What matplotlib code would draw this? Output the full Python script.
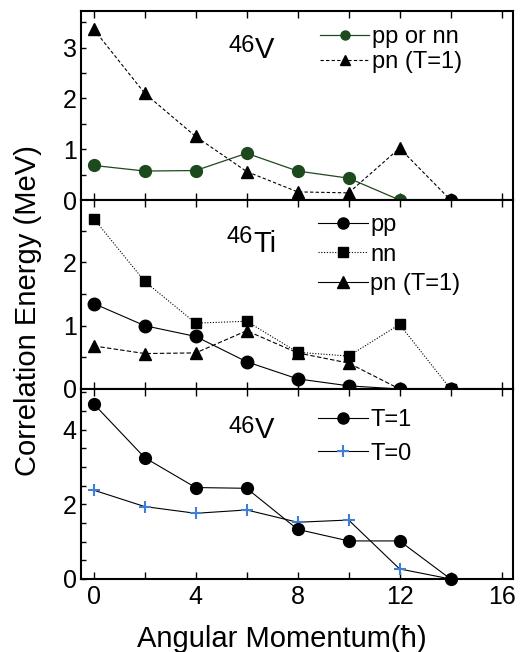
import matplotlib

matplotlib.use("Agg")
import matplotlib.pyplot as plt
from matplotlib.lines import Line2D
from matplotlib.ticker import MultipleLocator

# angular momentum grid (hbar)
j_vals = [0, 2, 4, 6, 8, 10, 12, 14]

# top panel: 46V, like-particle vs pn (T=1)
v46_like_j = [0, 2, 4, 6, 8, 10, 12]
v46_like = [0.68, 0.57, 0.58, 0.92, 0.57, 0.43, 0.0]
v46_pn = [3.36, 2.10, 1.25, 0.56, 0.16, 0.14, 1.02, 0.0]
v46_end_j = [14]
v46_end_e = [0.0]

# middle panel: 46Ti
ti46_pp = [1.35, 1.0, 0.83, 0.43, 0.16, 0.05, 0.0, 0.0]
ti46_nn = [2.69, 1.70, 1.04, 1.07, 0.58, 0.52, 1.02, 0.0]
ti46_pn_j = [0, 2, 4, 6, 8, 10, 12]
ti46_pn = [0.68, 0.56, 0.57, 0.92, 0.57, 0.41, 0.0]

# bottom panel: 46V, T=1 vs T=0
v46_t1 = [4.69, 3.25, 2.45, 2.43, 1.33, 1.02, 1.02, 0.0]
v46_t0 = [2.38, 1.94, 1.76, 1.85, 1.52, 1.58, 0.27, 0.0]

GREEN = "#1c4a1c"
BLUE = "#3f7fd6"

plt.rcParams.update(
    {
        "font.family": ["Liberation Sans", "DejaVu Sans"],
        "mathtext.fontset": "custom",
        "mathtext.rm": "Liberation Sans",
        "axes.linewidth": 1.5,
        "xtick.labelsize": 18,
        "ytick.labelsize": 18,
    }
)

W, H = 521, 652
fig = plt.figure(figsize=(W / 100, H / 100), dpi=100)


def px_axes(top, bottom, left=81, right=513):
    return fig.add_axes([left / W, 1 - bottom / H, (right - left) / W, (bottom - top) / H])


ax1 = px_axes(11, 200)
ax2 = px_axes(200, 389)
ax3 = px_axes(389, 579)


def style(ax, ymax, ymajor):
    ax.set_xlim(-0.5, 16.45)
    ax.set_ylim(0, ymax)
    ax.xaxis.set_major_locator(MultipleLocator(4))
    ax.xaxis.set_minor_locator(MultipleLocator(2))
    ax.yaxis.set_major_locator(MultipleLocator(ymajor))
    ax.yaxis.set_minor_locator(MultipleLocator(0.5))
    ax.tick_params(axis="x", which="both", direction="in", top=True, length=5, width=1.0, pad=4)
    ax.tick_params(axis="y", which="both", direction="in", right=False, length=3.5, width=1.0, pad=3)


def nuclide(ax, x, y_num, y_sym, sym):
    ax.text(x, y_num, "46", transform=ax.transAxes, ha="right", va="baseline", fontsize=17)
    ax.text(x, y_sym, sym, transform=ax.transAxes, ha="left", va="baseline", fontsize=21)


def legend(ax, handles, labels, anchor, spacing):
    ax.legend(handles, labels, loc="upper left", bbox_to_anchor=anchor,
              frameon=False, fontsize=17, handlelength=2.1, handletextpad=0.1,
              labelspacing=spacing, borderpad=0, borderaxespad=0)


# panel 1
ax1.plot(v46_like_j, v46_like, color=GREEN, lw=0.9, marker="o", ms=8.5, mfc=GREEN, mec=GREEN, zorder=3)
ax1.plot(j_vals, v46_pn, color="black", lw=0.8, ls=(0, (3, 2)), marker="^", ms=9, zorder=3)
ax1.plot(v46_end_j, v46_end_e, ls="none", marker="o", ms=8.5, color="black", zorder=4, clip_on=False)
style(ax1, 3.72, 1)
nuclide(ax1, 0.403, 0.783, 0.751, "V")
h1 = [
    Line2D([], [], color=GREEN, lw=0.9, marker="o", ms=6.5),
    Line2D([], [], color="black", lw=0.8, ls=(0, (3, 2)), marker="^", ms=7),
]
legend(ax1, h1, ["pp or nn", "pn (T=1)"], (0.553, 0.918), 0.12)

# panel 2
ax2.plot(j_vals, ti46_pp, color="black", lw=0.8, marker="o", ms=9, zorder=3, clip_on=False)
ax2.plot(j_vals, ti46_nn, color="black", lw=0.8, ls=(0, (1, 1.5)), marker="s", ms=7.5, zorder=3, clip_on=False)
ax2.plot(ti46_pn_j, ti46_pn, color="black", lw=0.8, ls=(0, (4, 2)), marker="^", ms=9, zorder=3)
style(ax2, 2.985, 1)
ax2.set_yticks([0, 1, 2])
nuclide(ax2, 0.398, 0.772, 0.726, "Ti")
h2 = [
    Line2D([], [], color="black", lw=0.8, marker="o", ms=8),
    Line2D([], [], color="black", lw=0.8, ls=(0, (1, 1.5)), marker="s", ms=7),
    Line2D([], [], color="black", lw=0.8, marker="^", ms=8),
]
legend(ax2, h2, ["pp", "nn", "pn (T=1)"], (0.549, 0.925), 0.32)

# panel 3
ax3.plot(j_vals, v46_t0, color="black", lw=0.8, marker="+", ms=9, mec=BLUE, mew=1.5, zorder=3, clip_on=False)
ax3.plot(j_vals, v46_t1, color="black", lw=0.8, marker="o", ms=8.5, zorder=4, clip_on=False)
style(ax3, 5.09, 2)
nuclide(ax3, 0.403, 0.768, 0.74, "V")
h3 = [
    Line2D([], [], color="black", lw=0.8, marker="o", ms=8),
    Line2D([], [], color="black", lw=0.8, marker="+", ms=9, mec=BLUE, mew=1.5),
]
legend(ax3, h3, ["T=1", "T=0"], (0.549, 0.895), 0.5)

for ax in (ax1, ax2):
    ax.tick_params(axis="x", labelbottom=False)

fig.text(28 / W, 1 - 311 / H, "Correlation Energy (MeV)", rotation=90, ha="center", va="center", fontsize=21)
fig.text(281.5 / W, 1 - 647 / H, "Angular Momentum(ħ)", ha="center", va="baseline", fontsize=21)

fig.savefig("out.png", dpi=100)
